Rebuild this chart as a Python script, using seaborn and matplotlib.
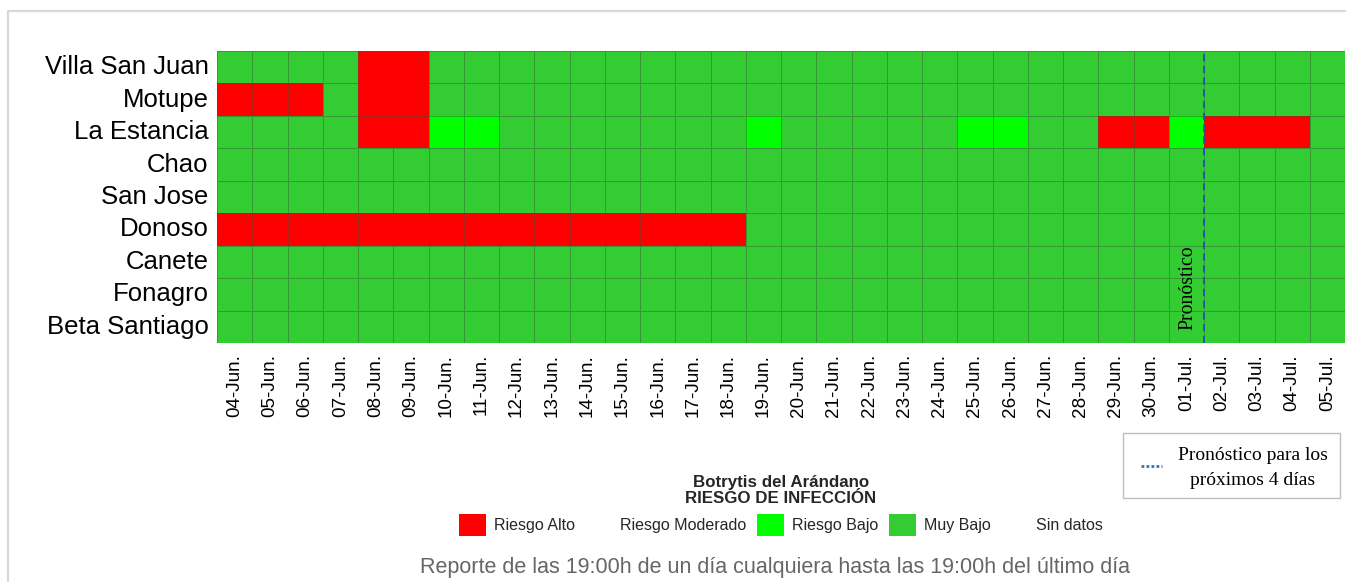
import numpy as np
import pandas as pd
import matplotlib
matplotlib.use("Agg")
import matplotlib.pyplot as plt
from matplotlib.colors import ListedColormap
from matplotlib.patches import Patch, Rectangle
from matplotlib.lines import Line2D
import seaborn as sns

# ---------------- data ----------------
fechas = ["04-Jun.", "05-Jun.", "06-Jun.", "07-Jun.", "08-Jun.", "09-Jun.", "10-Jun.", "11-Jun.",
          "12-Jun.", "13-Jun.", "14-Jun.", "15-Jun.", "16-Jun.", "17-Jun.", "18-Jun.", "19-Jun.",
          "20-Jun.", "21-Jun.", "22-Jun.", "23-Jun.", "24-Jun.", "25-Jun.", "26-Jun.", "27-Jun.",
          "28-Jun.", "29-Jun.", "30-Jun.", "01-Jul.", "02-Jul.", "03-Jul.", "04-Jul.", "05-Jul."]

sitios = ["Villa San Juan", "Motupe", "La Estancia", "Chao", "San Jose",
          "Donoso", "Canete", "Fonagro", "Beta Santiago"]

# risk codes: 0 = Muy Bajo, 1 = Riesgo Bajo, 2 = Riesgo Moderado, 3 = Riesgo Alto
villa_san_juan = [0, 0, 0, 0, 3, 3, 0, 0, 0, 0, 0, 0, 0, 0, 0, 0, 0, 0, 0, 0, 0, 0, 0, 0, 0, 0, 0, 0, 0, 0, 0, 0]
motupe         = [3, 3, 3, 0, 3, 3, 0, 0, 0, 0, 0, 0, 0, 0, 0, 0, 0, 0, 0, 0, 0, 0, 0, 0, 0, 0, 0, 0, 0, 0, 0, 0]
la_estancia    = [0, 0, 0, 0, 3, 3, 1, 1, 0, 0, 0, 0, 0, 0, 0, 1, 0, 0, 0, 0, 0, 1, 1, 0, 0, 3, 3, 1, 3, 3, 3, 0]
chao           = [0, 0, 0, 0, 0, 0, 0, 0, 0, 0, 0, 0, 0, 0, 0, 0, 0, 0, 0, 0, 0, 0, 0, 0, 0, 0, 0, 0, 0, 0, 0, 0]
san_jose       = [0, 0, 0, 0, 0, 0, 0, 0, 0, 0, 0, 0, 0, 0, 0, 0, 0, 0, 0, 0, 0, 0, 0, 0, 0, 0, 0, 0, 0, 0, 0, 0]
donoso         = [3, 3, 3, 3, 3, 3, 3, 3, 3, 3, 3, 3, 3, 3, 3, 0, 0, 0, 0, 0, 0, 0, 0, 0, 0, 0, 0, 0, 0, 0, 0, 0]
canete         = [0, 0, 0, 0, 0, 0, 0, 0, 0, 0, 0, 0, 0, 0, 0, 0, 0, 0, 0, 0, 0, 0, 0, 0, 0, 0, 0, 0, 0, 0, 0, 0]
fonagro        = [0, 0, 0, 0, 0, 0, 0, 0, 0, 0, 0, 0, 0, 0, 0, 0, 0, 0, 0, 0, 0, 0, 0, 0, 0, 0, 0, 0, 0, 0, 0, 0]
beta_santiago  = [0, 0, 0, 0, 0, 0, 0, 0, 0, 0, 0, 0, 0, 0, 0, 0, 0, 0, 0, 0, 0, 0, 0, 0, 0, 0, 0, 0, 0, 0, 0, 0]

niveles = ["Riesgo Alto", "Riesgo Moderado", "Riesgo Bajo", "Muy Bajo", "Sin datos"]
colores_niveles = ["#FF0000", "none", "#00FF00", "#33CC33", "none"]
inicio_pronostico = "02-Jul."

titulo_leyenda = "Botrytis del Arándano\nRIESGO DE INFECCIÓN"
nota = "Reporte de las 19:00h de un día cualquiera hasta las 19:00h del último día"
texto_pronostico = "Pronóstico para los\npróximos 4 días"

# ---------------- figure ----------------
sns.set_theme(style="white")
plt.rcParams["font.family"] = ["Liberation Sans", "DejaVu Sans"]

W, H = 1346, 582
fig = plt.figure(figsize=(W / 100, H / 100), dpi=100)
ax = fig.add_axes([217 / W, 1 - 343 / H, (1345 - 217) / W, (343 - 51) / H])

df = pd.DataFrame([villa_san_juan, motupe, la_estancia, chao, san_jose,
                   donoso, canete, fonagro, beta_santiago],
                  index=sitios, columns=fechas)

cmap = ListedColormap(["#33CC33", "#00FF00", "#FFFF00", "#FF0000"])
sns.heatmap(df, ax=ax, cmap=cmap, vmin=-0.5, vmax=3.5, cbar=False,
            linewidths=0.7, linecolor=(0.22, 0.32, 0.22, 0.42))

ax.tick_params(axis="both", length=0)
ax.tick_params(axis="x", pad=8)
ax.tick_params(axis="y", pad=6)
ax.set_xticklabels(fechas, rotation=90, fontsize=13.6, color="black")
ax.set_yticklabels(sitios, rotation=0, fontsize=18.5, color="black")
ax.set_xlabel("")
ax.set_ylabel("")
for s in ax.spines.values():
    s.set_visible(False)

# forecast separator
xp = fechas.index(inicio_pronostico)
ax.axvline(xp, color="#1F4FBF", lw=1.3, ls=(0, (4, 2.5)))
ax.text(xp - 0.45, 8.6, "Pronóstico", rotation=90, ha="center", va="bottom",
        fontsize=14.2, family="Liberation Serif", color="black")

# category legend
handles = [Patch(facecolor=c, edgecolor="none") for c in colores_niveles]
leg = fig.legend(handles, niveles, loc="upper center",
                 bbox_to_anchor=(781 / W, 1 - 461 / H), ncol=5, frameon=False,
                 fontsize=11.5, handlelength=1.7, handleheight=1.7,
                 handletextpad=0.5, columnspacing=0.65,
                 title=titulo_leyenda,
                 title_fontproperties={"weight": "bold", "size": 12.2})
leg.get_title().set_linespacing(1.05)
leg.get_title().set_multialignment("center")
leg._legend_box.sep = 6

# forecast box (figure pixel coordinates)
fx = lambda px: px / W
fy = lambda py: 1 - py / H
fig.add_artist(Rectangle((fx(1123), fy(498)), fx(1340) - fx(1123), fy(433) - fy(498),
                         transform=fig.transFigure, facecolor="white",
                         edgecolor="#BFBFBF", lw=1.0))
fig.add_artist(Line2D([fx(1141), fx(1162)], [fy(466), fy(466)], color="#2E75B6",
                      ls=(0, (1, 0.8)), lw=2.0))
fig.text(fx(1253), fy(468), texto_pronostico, ha="center", va="center",
         multialignment="center", linespacing=1.55,
         fontsize=14, family="Liberation Serif", color="black")

# footnote
fig.text(775 / W, 1 - 567 / H, nota, ha="center", va="center",
         fontsize=15.5, color="#666666")

# outer frame lines
fig.add_artist(Line2D([8 / W, 8 / W], [0, 1 - 11 / H], color="#D9D9D9", lw=1.6))
fig.add_artist(Line2D([8 / W, 1], [1 - 11 / H, 1 - 11 / H], color="#D9D9D9", lw=1.6))

fig.savefig("out.png", dpi=100)
